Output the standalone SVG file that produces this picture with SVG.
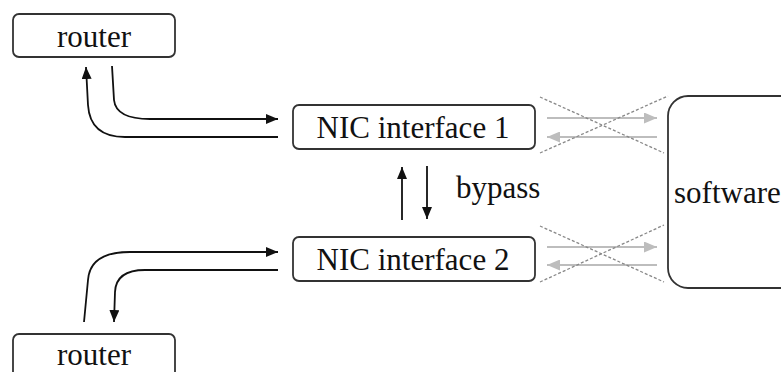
<svg xmlns="http://www.w3.org/2000/svg" width="781" height="372" viewBox="0 0 781 372">
<defs>
<style>
.box{fill:#fff;stroke:#333;stroke-width:1.8}
.lbl{font-family:"Liberation Serif","Times New Roman",serif;font-size:31px;fill:#111}
.con{fill:none;stroke:#111;stroke-width:1.8}
.gray{fill:none;stroke:#bdbdbd;stroke-width:1.8}
.dash{fill:none;stroke:#888;stroke-width:1.3;stroke-dasharray:3 2}
</style>
<marker id="ah" viewBox="0 0 12 10" refX="12" refY="5" markerWidth="12" markerHeight="10" markerUnits="userSpaceOnUse" orient="auto">
<path d="M0,0 L12,5 L0,10 Z" fill="#111"/>
</marker>
<marker id="gh" viewBox="0 0 13 11" refX="13" refY="5.5" markerWidth="13" markerHeight="11" markerUnits="userSpaceOnUse" orient="auto">
<path d="M0,0 L13,5.5 L0,11 Z" fill="#bdbdbd"/>
</marker>
</defs>
<g id="router-top">
<rect class="box" x="13" y="14" width="162" height="43" rx="6"/>
<text class="lbl" x="94" y="47" text-anchor="middle">router</text>
</g>
<g id="router-bottom">
<rect class="box" x="13" y="334" width="162" height="50" rx="6"/>
<text class="lbl" x="94" y="365" text-anchor="middle">router</text>
</g>
<g id="nic1">
<rect class="box" x="293" y="105" width="242" height="44" rx="6"/>
<text class="lbl" x="413" y="138" text-anchor="middle">NIC interface 1</text>
</g>
<g id="nic2">
<rect class="box" x="293" y="237" width="242" height="44" rx="6"/>
<text class="lbl" x="413" y="270" text-anchor="middle">NIC interface 2</text>
</g>
<g id="software">
<rect class="box" x="668" y="96" width="140" height="192" rx="20"/>
<text class="lbl" x="674" y="203">software</text>
</g>
<text class="lbl" x="456" y="198">bypass</text>
<g id="connectors">
<path class="con" d="M278,137 L125,137 Q90,137 88,105 L86,67" marker-end="url(#ah)"/>
<path class="con" d="M112,66 L114,100 Q116,119 150,119 L278,119" marker-end="url(#ah)"/>
<path class="con" d="M84,322 L88,280 Q90,252 130,252 L278,252" marker-end="url(#ah)"/>
<path class="con" d="M278,270 L145,270 Q116,270 115,292 L114,322" marker-end="url(#ah)"/>
<path class="con" d="M402,220 L402,167" marker-end="url(#ah)"/>
<path class="con" d="M427,166 L427,219" marker-end="url(#ah)"/>
<path class="gray" d="M547,118 L657,118" marker-end="url(#gh)"/>
<path class="gray" d="M657,137 L547,137" marker-end="url(#gh)"/>
<path class="gray" d="M547,247 L657,247" marker-end="url(#gh)"/>
<path class="gray" d="M657,265 L547,265" marker-end="url(#gh)"/>
<path class="dash" d="M540,97 L664,153"/>
<path class="dash" d="M540,153 L668,96"/>
<path class="dash" d="M540,226 L664,282"/>
<path class="dash" d="M540,282 L664,225"/>
</g>
</svg>
